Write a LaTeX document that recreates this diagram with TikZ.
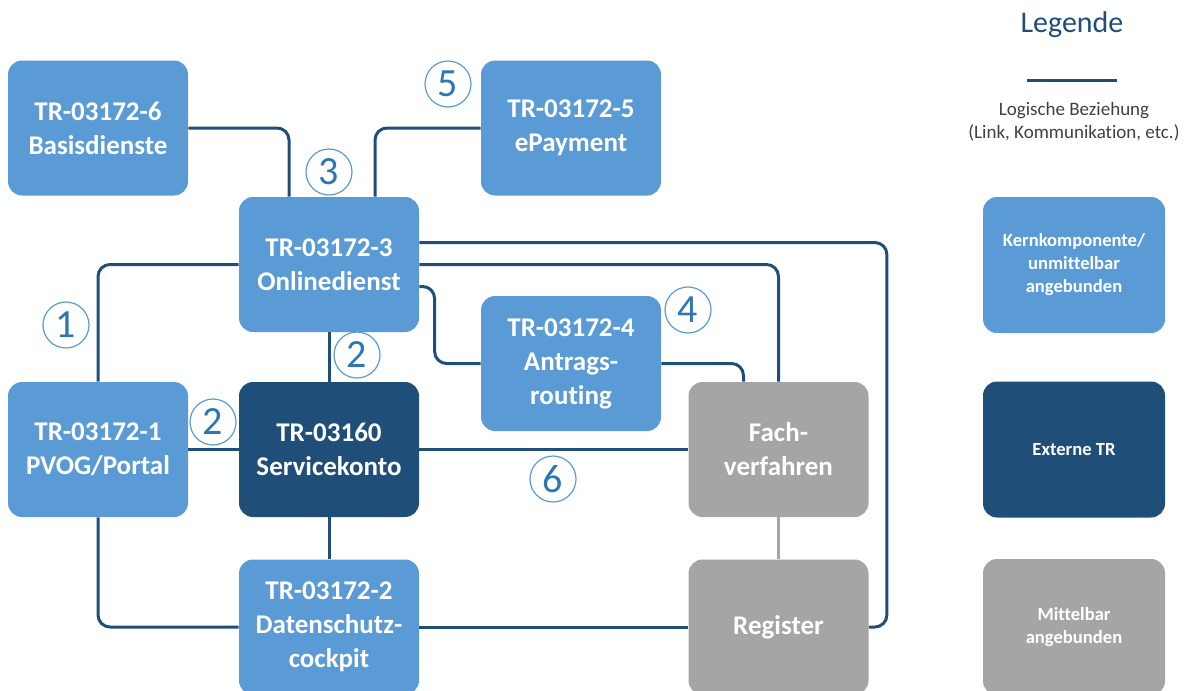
\documentclass[tikz,border=0pt]{standalone}
\usepackage{fontspec}
\setmainfont{Carlito}[Ligatures=NoCommon]
\definecolor{kernblue}{HTML}{5B9BD5}
\definecolor{extblue}{HTML}{1F4E79}
\definecolor{mittelgray}{HTML}{A5A5A5}
\definecolor{linkblue}{HTML}{1F4E79}
\definecolor{numblue}{HTML}{2E75B6}
\definecolor{legtext}{HTML}{404040}
\begin{document}
\begin{tikzpicture}[x=0.5pt,y=-0.5pt,
  box/.style={rounded corners=7pt,text=white,minimum width=90pt,minimum height=67.5pt,align=center,font=\fontsize{13.5}{17}\selectfont\bfseries},
  kern/.style={box,fill=kernblue},
  ext/.style={box,fill=extblue},
  mittel/.style={box,fill=mittelgray},
  legbox/.style={box,minimum width=91pt,minimum height=68pt,font=\fontsize{9.3}{11.5}\selectfont\bfseries},
  link/.style={draw=linkblue,line width=1.5pt,rounded corners=6pt},
  num/.style={circle,draw=kernblue,line width=0.6pt,fill=white,minimum size=23pt,inner sep=0pt,text=numblue,font=\fontsize{20}{20}\selectfont}]
\useasboundingbox (0,0) rectangle (1184,691);
%Komponenten
\node[kern] (basis) at (98,128) {TR-03172-6\\Basisdienste};
\node[kern] (epay) at (571,128) {TR-03172-5\\ePayment};
\node[kern] (online) at (329,264.5) {TR-03172-3\\Onlinedienst};
\node[kern] (antrag) at (571,363.5) {TR-03172-4\\Antrags-\\routing};
\node[kern] (pvog) at (98,449.5) {TR-03172-1\\PVOG/Portal};
\node[ext] (serv) at (329,449.5) {TR-03160\\Servicekonto};
\node[kern] (daten) at (329,627) {TR-03172-2\\Datenschutz-\\cockpit};
\node[mittel] (fach) at (778.5,449.5) {Fach-\\verfahren};
\node[mittel] (register) at (778.5,627) {Register};
%Verbindungen
\draw[link] (basis.east) -| ([xshift=-20pt]online.north);
\draw[link] (epay.west) -| ([xshift=23pt]online.north);
\draw[link] (online.west) -| (pvog.north);
\draw[link] ([yshift=11pt]online.east) -| ([xshift=9pt]register.east) -- (register.east);
\draw[link] (online.east) -| (fach.north);
\draw[link] ([yshift=-11pt]online.east) -| ([xshift=-23pt]antrag.west) -- (antrag.west);
\draw[link] (antrag.east) -| ([xshift=-17.5pt]fach.north);
\draw[link] (online.south) -- (serv.north);
\draw[link] (pvog.east) -- (serv.west);
\draw[link] (serv.east) -- (fach.west);
\draw[link] (serv.south) -- (daten.north);
\draw[link] (pvog.south) |- (daten.west);
\draw[link] (daten.east) -- (register.west);
\draw[draw=mittelgray,line width=1.5pt] (fach.south) -- (register.north);
%Nummern
\node[num] (n1) at (66,325) {1};
\node[num] (n2a) at (357,355) {2};
\node[num] (n2b) at (213,422) {2};
\node[num] (n3) at (329,172) {3};
\node[num] (n4) at (688,310) {4};
\node[num] (n5) at (448,84) {5};
\node[num] (n6) at (553,479) {6};
%Legende
\node[text=extblue,font=\fontsize{15}{15}\selectfont] (legtitle) at (1072,25) {Legende};
\coordinate (lega) at (1027,80);
\coordinate (legb) at (1117,80);
\draw[link] (lega) -- (legb);
\node[text=legtext,align=center,font=\fontsize{9.5}{11.5}\selectfont] (legtxt) at (1074,122) {Logische Beziehung\\(Link, Kommunikation, etc.)};
\node[legbox,fill=kernblue] (legkern) at (1074,265) {Kernkomponente/\\unmittelbar\\angebunden};
\node[legbox,fill=extblue] (legext) at (1074,449.5) {Externe TR};
\node[legbox,fill=mittelgray] (legmittel) at (1074,627) {Mittelbar\\angebunden};
\end{tikzpicture}
\end{document}
